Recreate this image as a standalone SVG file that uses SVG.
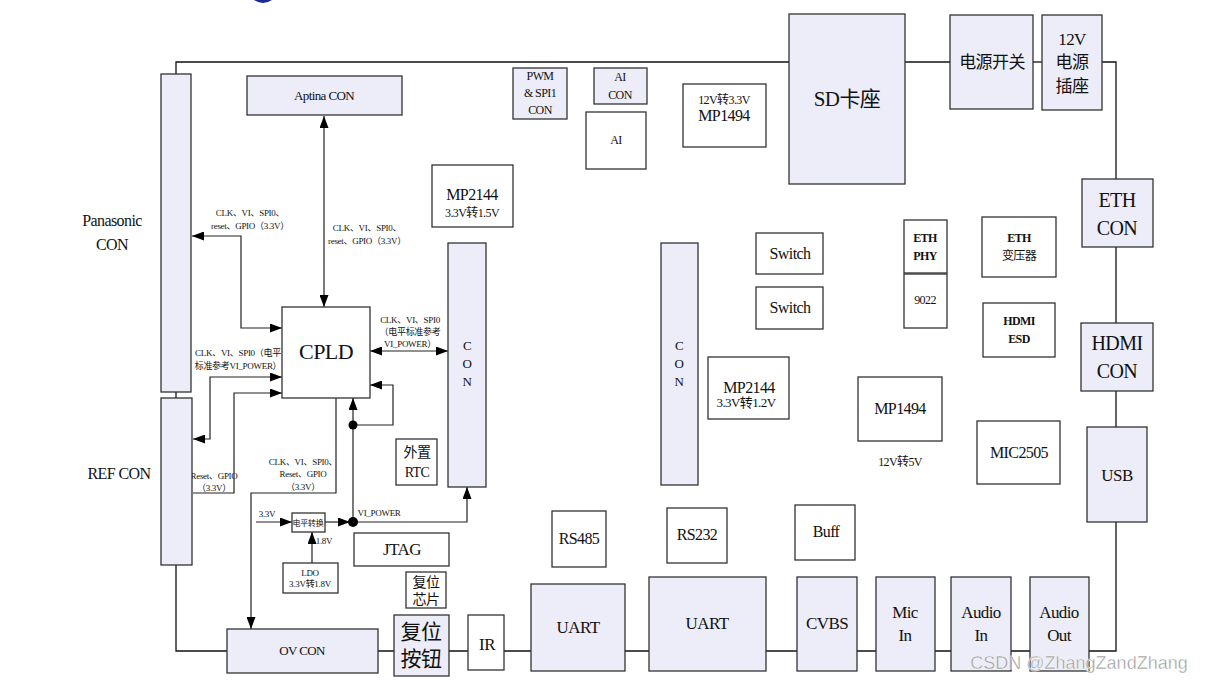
<svg xmlns="http://www.w3.org/2000/svg" width="1205" height="683" viewBox="0 0 1205 683">
<style>
.b{fill:#ECEDF8;stroke:#333;stroke-width:1.3}
.w{fill:#fff;stroke:#333;stroke-width:1.3}
.ln{fill:none;stroke:#111;stroke-width:1.3}
.ar{fill:none;stroke:#222;stroke-width:1.2}
text{font-family:"Liberation Serif","Times New Roman","DejaVu Serif","Noto Sans CJK SC",serif;fill:#111;text-anchor:middle;letter-spacing:-0.6px}
.s9{font-size:9px;letter-spacing:-0.3px}
.s12{font-size:12px}
.s13{font-size:13px}
.s14{font-size:14px}
.s16{font-size:16px}
.s17{font-size:17px}
.s20{font-size:20px}
.bd{font-weight:bold}
.wm{font-family:"Liberation Sans","Noto Sans",sans-serif;font-size:18px;fill:#999;stroke:#fff;stroke-width:0.4;letter-spacing:0}
</style>
<defs>
<marker id="ah" viewBox="0 0 12 9" refX="12" refY="4.5" markerWidth="12" markerHeight="9" markerUnits="userSpaceOnUse" orient="auto-start-reverse"><path d="M0,0 L12,4.5 L0,9 z" fill="#000"/></marker>
</defs>
<rect width="1205" height="683" fill="#fff"/>
<path d="M254,0 Q263,6 272,0 Z" fill="#1a2a9a"/>

<g id="connectors">
<path class="ln" d="M176,74 V62 H790"/>
<path class="ln" d="M905,62 H950"/>
<path class="ln" d="M1033,62 H1042"/>
<path class="ln" d="M1102,62 H1116 V180"/>
<path class="ln" d="M1116,247 V323"/>
<path class="ln" d="M1116,391 V427"/>
<path class="ln" d="M1116,522 V651 H1089"/>
<path class="ln" d="M1030,651 H1011 M951,651 H935 M876,651 H857 M797,651 H766 M649,651 H625 M531,651 H504 M468,651 H449 M394,651 H378"/>
<path class="ln" d="M176,392 V398"/>
<path class="ln" d="M176,565 V651 H227"/>
<path class="ar" d="M324,116 V307" marker-start="url(#ah)" marker-end="url(#ah)"/>
<path class="ar" d="M192,236 H241 V328 H282" marker-start="url(#ah)" marker-end="url(#ah)"/>
<path class="ar" d="M193,439 H210 V377 H282" marker-start="url(#ah)" marker-end="url(#ah)"/>
<path class="ar" d="M193,493 H234 V393 H282" marker-end="url(#ah)"/>
<path class="ar" d="M370,351 H448" marker-start="url(#ah)" marker-end="url(#ah)"/>
<path class="ar" d="M353,425 H393 V385 H370" marker-end="url(#ah)"/>
<path class="ar" d="M353,522 V398" marker-end="url(#ah)"/>
<path class="ar" d="M336,398 V493 H251 V629" marker-end="url(#ah)"/>
<path class="ar" d="M256,522 H292" marker-end="url(#ah)"/>
<path class="ar" d="M325,522 H350" marker-end="url(#ah)"/>
<path class="ar" d="M353,522 H467 V487" marker-end="url(#ah)"/>
<path class="ar" d="M312,563 V532" marker-end="url(#ah)"/>
<circle cx="353" cy="425" r="4.5" fill="#000"/>
<circle cx="353" cy="522" r="5" fill="#000"/>
<text class="s9" x="250" y="216">CLK、VI、SPI0、</text>
<text class="s9" x="250" y="229">reset、GPIO（3.3V）</text>
<text class="s9" x="367" y="231">CLK、VI、SPI0、</text>
<text class="s9" x="367" y="244">reset、GPIO（3.3V）</text>
<text class="s9" x="410" y="323">CLK、VI、SPI0</text>
<text class="s9" x="410" y="335">（电平标准参考</text>
<text class="s9" x="410" y="347">VI_POWER）</text>
<text class="s9" x="238" y="356">CLK、VI、SPI0（电平</text>
<text class="s9" x="238" y="369">标准参考VI_POWER）</text>
<text class="s9" x="214" y="479">Reset、GPIO</text>
<text class="s9" x="214" y="491">（3.3V）</text>
<text class="s9" x="303" y="465">CLK、VI、SPI0、</text>
<text class="s9" x="303" y="477">Reset、GPIO</text>
<text class="s9" x="303" y="490">（3.3V）</text>
<text class="s9" x="267" y="517">3.3V</text>
<text class="s9" x="324" y="544">1.8V</text>
<text class="s9" x="379" y="516">VI_POWER</text>
</g>

<g id="panasonic"><rect class="b" x="161" y="74" width="30" height="318"/><text class="s16" x="112" y="226">Panasonic</text><text class="s16" x="112" y="250">CON</text></g>
<g id="refcon"><rect class="b" x="161" y="398" width="31" height="167"/><text class="s16" x="119" y="479">REF CON</text></g>
<g id="aptina"><rect class="b" x="247" y="76" width="155" height="39"/><text class="s13" x="324" y="100">Aptina CON</text></g>
<g id="cpld"><rect class="w" x="282" y="307" width="88" height="91"/><text x="326" y="359" style="font-size:22px">CPLD</text></g>
<g id="con1"><rect class="b" x="448" y="243" width="38" height="244"/><text class="s13" x="467" y="350">C</text><text class="s13" x="467" y="368">O</text><text class="s13" x="467" y="386">N</text></g>
<g id="mp2144a"><rect class="w" x="432" y="165" width="81" height="62"/><text class="s16" x="472" y="200">MP2144</text><text class="s12" x="472" y="217">3.3V转1.5V</text></g>
<g id="pwm"><rect class="b" x="513" y="68" width="54" height="51"/><text class="s12" x="540" y="80">PWM</text><text class="s12" x="540" y="97">&amp; SPI1</text><text class="s12" x="540" y="114">CON</text></g>
<g id="aicon"><rect class="b" x="594" y="68" width="53" height="36"/><text class="s12" x="620" y="81">AI</text><text class="s12" x="620" y="99">CON</text></g>
<g id="ai"><rect class="w" x="586" y="112" width="60" height="57"/><text class="s12" x="616" y="144">AI</text></g>
<g id="mp1494a"><rect class="w" x="683" y="84" width="83" height="63"/><text class="s12" x="724" y="104">12V转3.3V</text><text class="s16" x="724" y="121">MP1494</text></g>
<g id="sd"><rect class="b" x="789" y="14" width="116" height="170"/><text x="847" y="106" style="font-size:21px">SD卡座</text></g>
<g id="pwrsw"><rect class="b" x="950" y="15" width="83" height="94"/><text class="s17" x="992" y="68">电源开关</text></g>
<g id="pwrjack"><rect class="b" x="1042" y="15" width="60" height="95"/><text class="s17" x="1072" y="45">12V</text><text class="s17" x="1072" y="68">电源</text><text class="s17" x="1072" y="92">插座</text></g>
<g id="ethcon"><rect class="b" x="1082" y="179" width="71" height="68"/><text class="s20" x="1117" y="207">ETH</text><text class="s20" x="1117" y="235">CON</text></g>
<g id="switch1"><rect class="w" x="756" y="233" width="67" height="41"/><text class="s16" x="790" y="259">Switch</text></g>
<g id="switch2"><rect class="w" x="756" y="287" width="67" height="42"/><text class="s16" x="790" y="313">Switch</text></g>
<g id="ethphy"><rect class="w" x="904" y="220" width="43" height="53"/><text class="s12 bd" x="925" y="242">ETH</text><text class="s12 bd" x="925" y="260">PHY</text></g>
<g id="chip9022"><rect class="w" x="904" y="274" width="43" height="54"/><text class="s12" x="925" y="304">9022</text></g>
<g id="ethtrans"><rect class="w" x="982" y="217" width="74" height="60"/><text class="s12 bd" x="1019" y="242">ETH</text><text class="s12" x="1019" y="260">变压器</text></g>
<g id="hdmiesd"><rect class="w" x="983" y="303" width="72" height="54"/><text class="s12 bd" x="1019" y="325">HDMI</text><text class="s12 bd" x="1019" y="343">ESD</text></g>
<g id="hdmicon"><rect class="b" x="1081" y="323" width="72" height="68"/><text class="s20" x="1117" y="350">HDMI</text><text class="s20" x="1117" y="378">CON</text></g>
<g id="con2"><rect class="b" x="661" y="243" width="37" height="242"/><text class="s13" x="679" y="350">C</text><text class="s13" x="679" y="368">O</text><text class="s13" x="679" y="386">N</text></g>
<g id="mp2144b"><rect class="w" x="708" y="357" width="81" height="62"/><text class="s16" x="749" y="393">MP2144</text><text class="s13" x="746" y="407">3.3V转1.2V</text></g>
<g id="mp1494b"><rect class="w" x="858" y="377" width="84" height="64"/><text class="s16" x="900" y="414">MP1494</text><text class="s12" x="900" y="466">12V转5V</text></g>
<g id="mic2505"><rect class="w" x="977" y="421" width="83" height="63"/><text class="s16" x="1019" y="458">MIC2505</text></g>
<g id="usb"><rect class="b" x="1087" y="427" width="60" height="95"/><text class="s17" x="1117" y="481">USB</text></g>
<g id="rtc"><rect class="w" x="396" y="439" width="41" height="46"/><text class="s14" x="417" y="457">外置</text><text class="s14" x="417" y="477">RTC</text></g>
<g id="level"><rect class="w" x="292" y="513" width="33" height="19"/><text x="308" y="526" style="font-size:8px;letter-spacing:-0.3px">电平转换</text></g>
<g id="ldo"><rect class="w" x="283" y="563" width="55" height="30"/><text class="s9" x="310" y="576">LDO</text><text class="s9" x="310" y="587">3.3V转1.8V</text></g>
<g id="jtag"><rect class="w" x="354" y="533" width="95" height="33"/><text class="s17" x="402" y="555">JTAG</text></g>
<g id="resetchip"><rect class="w" x="406" y="572" width="40" height="36"/><text class="s14" x="426" y="587">复位</text><text class="s14" x="426" y="604">芯片</text></g>
<g id="ovcon"><rect class="b" x="227" y="629" width="151" height="44"/><text class="s13" x="302" y="655">OV CON</text></g>
<g id="resetbtn"><rect class="b" x="394" y="615" width="55" height="61"/><text x="421" y="639" style="font-size:21px">复位</text><text x="421" y="666" style="font-size:21px">按钮</text></g>
<g id="ir"><rect class="w" x="468" y="615" width="36" height="55"/><text class="s17" x="487" y="650">IR</text></g>
<g id="rs485"><rect class="w" x="552" y="511" width="54" height="56"/><text class="s16" x="579" y="544">RS485</text></g>
<g id="rs232"><rect class="w" x="667" y="508" width="60" height="55"/><text class="s16" x="697" y="540">RS232</text></g>
<g id="buff"><rect class="w" x="795" y="505" width="60" height="55"/><text class="s16" x="826" y="537">Buff</text></g>
<g id="uart1"><rect class="b" x="531" y="584" width="94" height="87"/><text class="s17" x="578" y="633">UART</text></g>
<g id="uart2"><rect class="b" x="649" y="577" width="117" height="94"/><text class="s17" x="707" y="629">UART</text></g>
<g id="cvbs"><rect class="b" x="797" y="577" width="60" height="94"/><text class="s17" x="827" y="629">CVBS</text></g>
<g id="micin"><rect class="b" x="876" y="577" width="59" height="94"/><text class="s17" x="905" y="618">Mic</text><text class="s17" x="905" y="641">In</text></g>
<g id="audioin"><rect class="b" x="951" y="577" width="60" height="94"/><text class="s17" x="981" y="618">Audio</text><text class="s17" x="981" y="641">In</text></g>
<g id="audioout"><rect class="b" x="1030" y="577" width="59" height="94"/><text class="s17" x="1059" y="618">Audio</text><text class="s17" x="1059" y="641">Out</text></g>
<text class="wm" x="1079" y="669">CSDN @ZhangZandZhang</text>
</svg>
